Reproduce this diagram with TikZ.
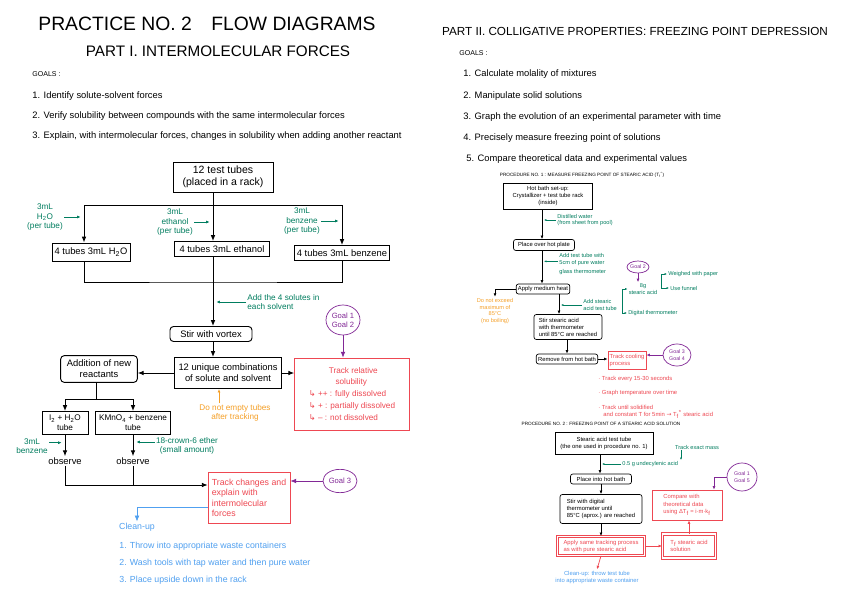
\documentclass[tikz,border=0pt]{standalone}
\usepackage{fontspec}
\setmainfont{Liberation Sans}
\newfontfamily\symb{DejaVu Sans}
\usetikzlibrary{arrows.meta,positioning,shapes.geometric}
\definecolor{inkgreen}{RGB}{0,125,95}
\definecolor{inkred}{RGB}{238,72,82}
\definecolor{inkorange}{RGB}{245,160,40}
\definecolor{inkpurple}{RGB}{130,40,150}
\definecolor{inkblue}{RGB}{80,160,240}

\begin{document}
\begin{tikzpicture}[x=0.3mm,y=-0.3mm,
      box/.style={draw,thick,align=center,inner sep=2pt,font=\fontsize{8}{9.5}\selectfont},
      rbox/.style={box,rounded corners=3pt},
      sbox/.style={draw,semithick,align=center,inner sep=1.5pt,font=\fontsize{5}{6}\selectfont},
      srbox/.style={sbox,rounded corners=2pt},
      redbox/.style={draw=inkred,semithick,text=inkred,align=left,inner sep=2pt,font=\fontsize{7.5}{9}\selectfont},
      sredbox/.style={redbox,inner sep=1.5pt,font=\fontsize{5}{6}\selectfont},
      dredbox/.style={sredbox,line width=0.7pt,double=white,double distance=1.4pt},
      goal/.style={ellipse,draw=inkpurple,semithick,text=inkpurple,align=center,inner sep=0pt,font=\fontsize{6.5}{7.5}\selectfont},
      sgoal/.style={goal,font=\fontsize{4.5}{5.5}\selectfont},
      note/.style={text=inkgreen,align=center,inner sep=1pt,font=\fontsize{7}{8}\selectfont},
      snote/.style={note,align=left,font=\fontsize{4.8}{5.8}\selectfont},
      warn/.style={note,text=inkorange},
      swarn/.style={snote,align=center,text=inkorange},
      sred/.style={snote,text=inkred,font=\fontsize{5}{6}\selectfont},
      clean/.style={note,text=inkblue,align=left,font=\fontsize{7.5}{9}\selectfont},
      sclean/.style={snote,text=inkblue,align=center,font=\fontsize{5}{6}\selectfont},
      line/.style={inner sep=1pt,font=\fontsize{8}{9.5}\selectfont},
      ar/.style={-{Latex[length=5pt,width=4pt]},thick},
      sar/.style={-{Latex[length=3pt,width=2.5pt]},semithick},
      gar/.style={-{Latex[length=3pt,width=2.5pt]},inkgreen,semithick},
      sgar/.style={-{Latex[length=2pt,width=1.8pt]},inkgreen,thin},
      par/.style={ar,inkpurple,semithick},
      spar/.style={sar,inkpurple},
      oar/.style={gar,inkorange},
      bar/.style={ar,inkblue,semithick},
      srar/.style={sar,inkred}]
    \useasboundingbox[fill=white] (0,0) rectangle (848,599);

    % Part I
    \node[font=\fontsize{16.5}{18}\selectfont] (title) at (207,24) {PRACTICE NO. 2\quad FLOW DIAGRAMS};
    \node[font=\fontsize{13}{15}\selectfont] (part1) at (218,51) {PART I. INTERMOLECULAR FORCES};
    \node[line,anchor=west,font=\fontsize{6}{7}\selectfont] (goalsL) at (31,74) {GOALS :};
    \node[line,anchor=west] (gl1) at (31,96) {1. Identify solute-solvent forces};
    \node[line,anchor=west] (gl2) at (31,116) {2. Verify solubility between compounds with the same intermolecular forces};
    \node[line,anchor=west] (gl3) at (31,136) {3. Explain, with intermolecular forces, changes in solubility when adding another reactant};

    \node[box,font=\fontsize{9}{10.5}\selectfont,minimum width=30mm,minimum height=9mm] (tubes) at (223,177) {12 test tubes\\(placed in a rack)};
    \node[box,minimum width=23.4mm,minimum height=5.4mm] (h2o) at (91,252) {4 tubes 3mL H\textsubscript{2}O};
    \node[box,minimum width=28.5mm,minimum height=4.5mm] (eth) at (222,249) {4 tubes 3mL ethanol};
    \node[box,minimum width=27.9mm,minimum height=4.5mm] (benz) at (342,253) {4 tubes 3mL benzene};
    \coordinate (spine) at (213,0);
    \coordinate (lx) at (84,0);
    \coordinate (fork) at (213,205);
    \coordinate (merge) at (213,282);
    \draw[ar] (tubes.south -| spine) -- (eth.north -| spine);
    \draw[ar] (fork) -| (h2o.north -| lx);
    \draw[ar] (fork) -| (benz.north);
    \draw[thick] (h2o.south -| lx) |- (merge) -| (benz.south);
    \node[note] (nh2o) at (45,217) {3mL\\H\textsubscript{2}O\\(per tube)};
    \node[note] (neth) at (175,222) {3mL\\ethanol\\(per tube)};
    \node[note] (nbenz) at (302,221) {3mL\\benzene\\(per tube)};
    \draw[gar] (nh2o.east) -- ([xshift=-1mm]nh2o.east -| lx);
    \draw[gar] (neth.east) -- ([xshift=-1mm]neth.east -| spine);
    \draw[gar] (nbenz.east) -- ([xshift=-1mm]nbenz.east -| benz.north);
    \node[note,align=left,anchor=west] (solutes) at (246,302) {Add the 4 solutes in\\each solvent};

    \node[rbox,minimum width=24.6mm,minimum height=4.5mm] (stir) at (211,334) {Stir with vortex};
    \node[box,minimum width=32mm,minimum height=9.3mm] (combo) at (228,373) {12 unique combinations\\of solute and solvent};
    \node[rbox,minimum width=23mm,minimum height=8mm] (addn) at (99,369) {Addition of new\\reactants};
    \node[redbox,font=\fontsize{7}{9}\selectfont,minimum width=34.5mm,minimum height=21.6mm] (track) at (352,394)
      {\hspace*{6mm}Track relative\\\hspace*{8mm}solubility\\[2pt]
       {\symb ↳} ++ : fully dissolved\\[1pt]{\symb ↳} + : partially dissolved\\[1pt]{\symb ↳} -- : not dissolved};
    \node[goal,minimum width=10.2mm,minimum height=9mm] (g12) at (343,320) {Goal 1\\Goal 2};
    \node[warn] (noempty) at (235,413) {Do not empty tubes\\after tracking};
    \draw[gar] (solutes.west) -- ([xshift=1mm]solutes.west -| spine);
    \draw[ar] (eth.south -| spine) -- (stir.north -| spine);
    \draw[ar] (stir.south -| spine) -- (combo.north -| spine);
    \draw[ar] (combo.west) -- (combo.west -| addn.east);
    \draw[ar] (combo.east) -- (combo.east -| track.west);
    \draw[par] (g12) -- (g12 |- track.north);
    \coordinate (oa) at (219,0);
    \draw[oar] (noempty.north -| oa) -- (combo.south -| oa);

    \node[box,font=\fontsize{7}{8.5}\selectfont,minimum width=13.8mm,minimum height=6.9mm] (i2) at (65,423) {I\textsubscript{2} + H\textsubscript{2}O\\tube};
    \node[box,font=\fontsize{7}{8.5}\selectfont,minimum width=22.5mm,minimum height=6.9mm] (kmn) at (133,423) {KMnO\textsubscript{4} + benzene\\tube};
    \coordinate (split) at (96,399);
    \draw[thick] (addn.south -| split) -- (split);
    \draw[ar] (split) -| (i2.north);
    \draw[ar] (split) -| (kmn.north);
    \node[line] (obs1) at (65,461) {observe};
    \node[line] (obs2) at (133,461) {observe};
    \draw[ar] (i2) -- (obs1);
    \draw[ar] (kmn) -- (obs2);
    \node[note] (nbz) at (32,446) {3mL\\benzene};
    \node[note] (crown) at (187,446) {18-crown-6 ether\\(small amount)};
    \draw[gar] ([yshift=1mm]nbz.east) -- ([xshift=-1mm,yshift=1mm]nbz.east -| i2.south);
    \draw[gar] ([yshift=1.2mm]crown.west) -- ([xshift=1mm,yshift=1.2mm]crown.west -| kmn.south);

    \node[redbox,minimum width=24.6mm,minimum height=15.3mm] (explain) at (249,498) {Track changes and\\explain with\\intermolecular\\forces};
    \node[goal,minimum width=10.2mm,minimum height=7mm] (g3) at (340,481) {Goal 3};
    \coordinate (join) at (133,485);
    \draw[thick] (obs2.south) -- (join);
    \draw[ar] (obs1.south) |- (explain.west |- join);
    \draw[par] (g3.west) -- (g3.west -| explain.east);
    \node[clean] (clean) at (137,527) {Clean-up};
    \draw[bar] ([yshift=-2.7mm]explain.west) -| (clean.north);
    \node[clean,anchor=west] (c1) at (118,546) {1. Throw into appropriate waste containers};
    \node[clean,anchor=west] (c2) at (118,563) {2. Wash tools with tap water and then pure water};
    \node[clean,anchor=west] (c3) at (118,580) {3. Place upside down in the rack};

    % Part II
    \node[font=\fontsize{10}{12}\selectfont] (part2) at (635,31) {PART II. COLLIGATIVE PROPERTIES: FREEZING POINT DEPRESSION};
    \node[line,anchor=west,font=\fontsize{6}{7}\selectfont] (goalsR) at (458,53) {GOALS :};
    \node[line,anchor=west] (gr1) at (462,74) {1. Calculate molality of mixtures};
    \node[line,anchor=west] (gr2) at (462,96) {2. Manipulate solid solutions};
    \node[line,anchor=west] (gr3) at (462,117) {3. Graph the evolution of an experimental parameter with time};
    \node[line,anchor=west] (gr4) at (462,138) {4. Precisely measure freezing point of solutions};
    \node[line,anchor=west] (gr5) at (465,159) {5. Compare theoretical data and experimental values};

    \node[font=\fontsize{4}{5}\selectfont] (proc1) at (582,175) {PROCEDURE NO. 1 : MEASURE FREEZING POINT OF STEARIC ACID (T\textsubscript{f}\textsuperscript{*})};
    \node[sbox,minimum width=26.7mm,minimum height=7.8mm] (hotbath) at (548,196) {Hot bath set-up:\\Crystallizer + test tube rack\\(inside)};
    \node[srbox,minimum width=18.3mm,minimum height=3.3mm] (place) at (544,245) {Place over hot plate};
    \node[srbox,minimum width=15.9mm,minimum height=3mm] (apply) at (543,289) {Apply medium heat};
    \node[srbox,align=left,minimum width=20.4mm,minimum height=7.5mm] (stir1) at (568,327) {Stir stearic acid\\with thermometer\\until 85°C are reached};
    \node[srbox,minimum width=18.3mm,minimum height=3mm] (remove) at (567,359) {Remove from hot bath};
    \node[sredbox,minimum width=10.5mm,minimum height=5.4mm] (cooling) at (627,360) {Track cooling\\process};
    \coordinate (rsp) at (542,0);
    \coordinate (rsp2) at (559,0);
    \draw[sar] (hotbath.south -| rsp) -- (place.north -| rsp);
    \draw[sar] (place.south -| rsp) -- (apply.north -| rsp);
    \draw[sar] (apply.south -| rsp2) -- (stir1.north -| rsp2);
    \draw[sar] (stir1.south -| remove) -- (remove.north);
    \draw[sar] (remove.east) -- (remove.east -| cooling.west);

    \node[snote,anchor=west] (water) at (556,220) {Distilled water\\(from sheet from pool)};
    \node[snote,anchor=west] (tt) at (558,264) {Add test tube with\\5cm of pure water\\[2pt]glass thermometer};
    \node[swarn] (maxheat) at (495,311) {Do not exceed\\maximum of\\85°C\\(no boiling)};
    \node[snote,anchor=west] (sanote) at (582,305) {Add stearic\\acid test tube};
    \node[snote,align=center] (sa8) at (643,289) {8g\\stearic acid};
    \node[snote,anchor=west] (dig) at (627,313) {Digital thermometer};
    \node[snote,anchor=west] (weigh) at (667,274) {Weighed with paper};
    \node[snote,anchor=west] (funnel) at (669,288) {Use funnel};
    \node[sgoal,minimum width=6mm,minimum height=3.6mm] (g2) at (638,267) {Goal 2};
    \node[sgoal,minimum width=8.4mm,minimum height=6.6mm] (g34) at (677,355) {Goal 3\\Goal 4};
    \draw[sgar] (water.west) -- ([xshift=0.6mm]water.west -| rsp);
    \draw[sgar] ([yshift=0.8mm]tt.west) -- ([xshift=0.6mm,yshift=0.8mm]tt.west -| rsp);
    \draw[sar] (apply.west) -| (maxheat.north);
    \draw[sgar] (sanote.west) -- ([xshift=0.6mm]sanote.west -| rsp2);
    \coordinate (brk1) at (622,301);
    \coordinate (brk2) at (661,281);
    \draw[sgar] (brk1) |- (sa8.west);
    \draw[sgar] (brk1) |- (dig.west);
    \draw[sgar] (brk2) |- (weigh.west);
    \draw[sgar] (brk2) |- (funnel.west);
    \draw[spar] (g2) -- (g2 |- sa8.north);
    \draw[spar] (g34.west) -- (g34.west -| cooling.east);
    \node[sred,anchor=west] (tr1) at (597,379) {· Track every 15-30 seconds};
    \node[sred,anchor=west] (tr2) at (597,393) {· Graph temperature over time};
    \node[sred,anchor=west] (tr3) at (597,412) {· Track until solidified\\\hspace*{1.5mm}and constant T for 5min {\symb →} T\textsubscript{f}\textsuperscript{*} stearic acid};

    \node[font=\fontsize{4}{5}\selectfont] (proc2) at (601,424) {PROCEDURE NO. 2 : FREEZING POINT OF A STEARIC ACID SOLUTION};
    \node[sbox,minimum width=29.4mm,minimum height=6.6mm] (tube2) at (604,443) {Stearic acid test tube\\(the one used in procedure no. 1)};
    \node[srbox,minimum width=18.3mm,minimum height=3mm] (hot2) at (601,479) {Place into hot bath};
    \node[srbox,align=left,minimum width=24.6mm,minimum height=8.7mm] (stir2) at (601,509) {Stir with digital\\thermometer until\\85°C (aprox.) are reached};
    \node[dredbox,minimum width=26.1mm,minimum height=5.7mm] (same) at (601,546) {Apply same tracking process\\as with pure stearic acid};
    \node[dredbox,minimum width=15.9mm,minimum height=7.2mm] (tfsol) at (689,546) {T\textsubscript{f} stearic acid\\solution};
    \node[sredbox,minimum width=21mm,minimum height=9mm] (compare) at (687,505) {Compare with\\theoretical data\\using ΔT\textsubscript{f} = i·m·k\textsubscript{f}};
    \node[sgoal,minimum width=9mm,minimum height=8.4mm] (g15) at (742,477) {Goal 1\\Goal 5};
    \node[snote,anchor=west] (undec) at (621,464) {0.5 g undecylenic acid};
    \node[snote] (mass) at (697,447) {Track exact mass};
    \node[sclean] (clean2) at (597,577) {Clean-up: throw test tube\\into appropriate waste container};
    \coordinate (rsp3) at (600,0);
    \coordinate (mx) at (681,0);
    \coordinate (c15) at (714,0);
    \draw[sar] (tube2.south -| rsp3) -- (hot2.north -| rsp3);
    \draw[sgar] (undec.west) -- ([xshift=0.6mm]undec.west -| rsp3);
    \draw[sgar] (mass.south -| mx) -- (undec.north -| mx);
    \draw[sar] (hot2) -- (stir2);
    \draw[sar] (stir2) -- (same);
    \draw[srar] (same) -- (tfsol);
    \draw[srar] (tfsol.north) -- (tfsol.north |- compare.south);
    \draw[spar] (g15.west) -| (compare.north -| c15);
    \draw[srar] (same.south) -- (clean2.north);
  \end{tikzpicture}
\end{document}
